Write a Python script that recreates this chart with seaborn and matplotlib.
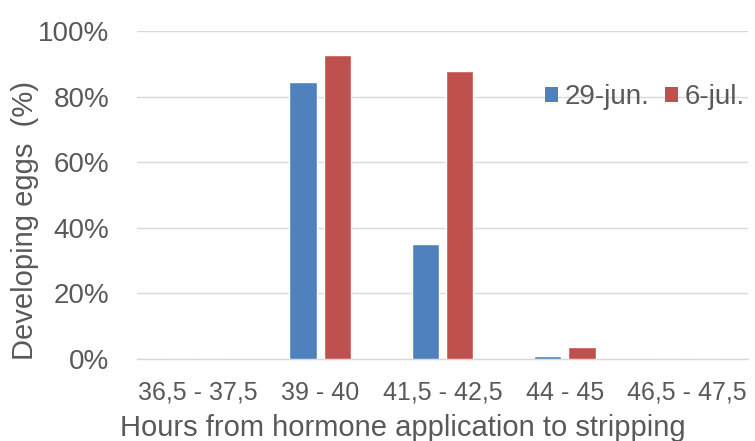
import matplotlib
matplotlib.use("Agg")
import matplotlib.pyplot as plt
import matplotlib.patches as mpatches
import seaborn as sns
import pandas as pd

categories = ["36,5 - 37,5", "39 - 40", "41,5 - 42,5", "44 - 45", "46,5 - 47,5"]
series_names = ["29-jun.", "6-jul."]
jun29 = [0.0, 84.6, 35.1, 0.9, 0.0]
jul6 = [0.0, 92.7, 88.0, 3.7, 0.0]
y_ticks = [0, 20, 40, 60, 80, 100]
colors = ["#4f81bd", "#c0504d"]

df = pd.DataFrame({
    "interval": categories * 2,
    "series": [series_names[0]] * len(categories) + [series_names[1]] * len(categories),
    "value": jun29 + jul6,
})

sns.set_style("white")
plt.rcParams["font.family"] = ["Liberation Sans", "DejaVu Sans"]
text_color = "#595959"
grid_color = "#d9d9d9"

fig = plt.figure(figsize=(7.55, 4.41), dpi=100)
ax = fig.add_axes([0.181, 0.186, 0.81, 0.7426])

sns.barplot(data=df, x="interval", y="value", hue="series", order=categories,
            hue_order=series_names, palette=colors, width=0.56, gap=0.2,
            saturation=1, legend=False, ax=ax, zorder=3)

ax.set_ylim(0, 100)
ax.set_xlim(-0.5, len(categories) - 0.5)
ax.set_yticks(y_ticks)
ax.set_yticklabels([f"{t}%" for t in y_ticks])
ax.yaxis.grid(True, color=grid_color, linewidth=1.0, zorder=0)
ax.set_axisbelow(True)
for side in ["top", "right", "left"]:
    ax.spines[side].set_visible(False)
ax.spines["bottom"].set_color(grid_color)
ax.spines["bottom"].set_linewidth(1.0)
ax.tick_params(axis="both", length=0, colors=text_color)
ax.tick_params(axis="x", labelsize=18, pad=15.5)
ax.tick_params(axis="y", labelsize=20, pad=19.5)

ax.set_xlabel("Hours from hormone application to stripping", fontsize=21,
              color=text_color)
ax.xaxis.label.set_va("baseline")
ax.xaxis.set_label_coords(0.4354, -0.2351)

ax.set_ylabel("Developing eggs  (%)", fontsize=21, color=text_color)
ax.yaxis.label.set_va("baseline")
ax.yaxis.set_label_coords(-0.1696, 0.424)

handles = [mpatches.Patch(facecolor=c, edgecolor="none", label=n)
           for c, n in zip(colors, series_names)]
ax.legend(handles=handles, loc="center left", bbox_to_anchor=(0.6676, 0.80),
          ncol=2, frameon=False, fontsize=20, handlelength=0.47, handleheight=0.45,
          handletextpad=0.25, columnspacing=0.55, borderpad=0, borderaxespad=0,
          labelcolor=text_color)

fig.savefig("out.png", dpi=100)
